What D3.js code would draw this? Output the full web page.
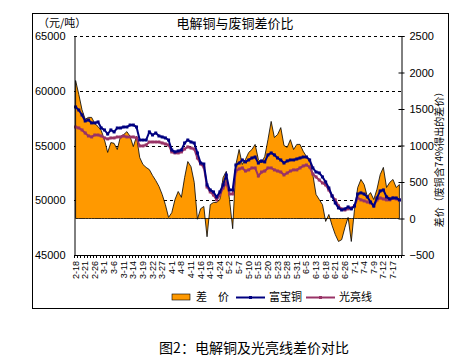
<!DOCTYPE html>
<html>
  <head>
    <meta charset="utf-8">
    <title>电解铜与废铜差价比</title>
    <script src="https://d3js.org/d3.v7.min.js"></script>
    <style>
      body { margin: 0; background: #fff; }
      svg text { font-family: "Liberation Sans", Arial, "Noto Sans CJK SC", sans-serif; }
      .cjk { font-family: "Noto Sans CJK SC", sans-serif; }
    </style>
  </head>
  <body>
    <div id="chart"></div>
    <script>
      // trading days, 2013
      var dates = [
        "2-18","2-19","2-20","2-21","2-22","2-25","2-26","2-27","2-28",
        "3-1","3-4","3-5","3-6","3-7","3-8","3-11","3-12","3-13","3-14","3-15","3-18","3-19","3-20","3-21","3-22","3-25","3-26","3-27","3-28","3-29",
        "4-1","4-2","4-3","4-8","4-9","4-10","4-11","4-12","4-15","4-16","4-17","4-18","4-19","4-22","4-23","4-24","4-25","4-26",
        "5-2","5-3","5-6","5-7","5-8","5-9","5-10","5-13","5-14","5-15","5-16","5-17","5-20","5-21","5-22","5-23","5-24","5-27","5-28","5-29","5-30","5-31",
        "6-3","6-4","6-5","6-6","6-7","6-13","6-14","6-17","6-18","6-19","6-20","6-21","6-24","6-25","6-26","6-27","6-28",
        "7-1","7-2","7-3","7-4","7-5","7-8","7-9","7-10","7-11","7-12","7-15","7-16","7-17","7-18","7-19"
      ];
      // 差价 (right axis)
      var spread = [
        1890,1700,1490,1360,1385,1385,1300,1260,1205,1080,905,1040,1030,945,1125,1150,1190,1125,985,1125,
        835,740,700,670,590,520,440,330,190,15,80,260,370,290,560,780,710,495,-10,135,
        165,-250,190,220,220,260,560,645,260,-140,740,945,740,810,905,945,1015,810,765,850,
        1080,1330,1110,1150,1245,1000,975,1080,945,1015,1015,920,850,810,600,330,260,190,-40,55,
        -95,-220,-315,-290,-125,15,-315,125,425,535,465,300,355,260,400,600,700,425,495,535,
        425,465
      ];
      // 富宝铜 (left axis)
      var fubao = [
        58520,58240,57790,57240,57330,57060,57060,57150,56600,56420,56050,56420,56240,56600,56600,56690,56690,56870,56870,56690,
        55500,55500,55500,56240,55960,56140,55870,55780,55690,55500,54590,54410,54500,54590,55230,55500,55320,55230,54320,53400,
        53310,51400,50940,50760,50300,50760,51400,52310,50940,50940,53220,53400,53680,53500,53680,53860,53950,53400,53590,53500,
        54140,54320,54140,53860,53680,53400,53590,53680,53680,53770,53860,53950,53950,53680,52950,52580,52490,52130,51670,51120,
        50390,49750,49300,49110,49210,49390,49210,49480,50570,50670,50570,50300,49840,49480,50210,50850,50940,50300,50120,50210,
        50210,50030
      ];
      // 光亮线 (left axis)
      var guangliang = [
        56690,56600,56420,56140,55870,55780,55960,55960,55870,55690,55600,55690,55690,55780,55780,55870,55780,55780,55780,55690,
        54960,54960,55050,55320,55320,55320,55320,55230,55140,55050,54410,54320,54320,54410,54680,54870,54770,54680,53860,53310,
        53040,51210,50760,50480,50030,50480,51120,51580,50570,50570,52670,52860,52950,52670,52770,52950,52950,52220,52580,52670,
        52950,52950,52770,52670,52580,52310,52490,52670,52770,52770,52950,53130,53220,53040,52400,52130,51850,51580,51400,50940,
        50390,50030,49480,49210,49110,49210,49300,49480,50210,50030,49940,49840,49750,49480,50030,50210,50120,50030,50030,50210,
        50120,50030
      ];
      var leftTicks = [45000, 50000, 55000, 60000, 65000];
      var gridTicks = [50000, 55000, 60000, 65000];
      var rightTicks = [-500, 0, 500, 1000, 1500, 2000, 2500];

      var svg = d3.select("#chart")
        .append("svg")
        .attr("width", 470)
        .attr("height", 362);

      // outer chart box
      svg.append("rect")
        .attr("x", 32.5).attr("y", 13.5)
        .attr("width", 416).attr("height", 295)
        .attr("fill", "#fff").attr("stroke", "#000");

      var plot = { left: 74, right: 401, top: 36, bottom: 255 };

      var x = d3.scaleBand()
        .domain(dates)
        .range([plot.left, plot.right]);
      var bw = x.bandwidth();
      function cx(d) { return x(d) + bw / 2; }

      var yL = d3.scaleLinear().domain([45000, 65000]).range([plot.bottom, plot.top]);
      var yR = d3.scaleLinear().domain([-500, 2500]).range([plot.bottom, plot.top]);

      // dashed gridlines
      svg.append("g")
        .selectAll("line")
        .data(gridTicks)
        .enter().append("line")
          .attr("x1", plot.left).attr("x2", plot.right)
          .attr("y1", function(d) { return Math.round(yL(d)) + 0.5; })
          .attr("y2", function(d) { return Math.round(yL(d)) + 0.5; })
          .attr("stroke", "#000")
          .attr("stroke-dasharray", "3,3");

      // spread area
      var area = d3.area()
        .x(function(d, i) { return cx(dates[i]); })
        .y0(yR(0))
        .y1(function(d) { return yR(d); });
      svg.append("path")
        .datum(spread)
        .attr("d", area)
        .attr("fill", "#ff9900")
        .attr("stroke", "#000")
        .attr("stroke-width", 0.8);

      // price lines
      function drawLine(values, color) {
        var line = d3.line()
          .x(function(d, i) { return cx(dates[i]); })
          .y(function(d) { return yL(d); });
        svg.append("path")
          .datum(values)
          .attr("d", line)
          .attr("fill", "none")
          .attr("stroke", color)
          .attr("stroke-width", 2);
        svg.append("g")
          .selectAll("rect")
          .data(values)
          .enter().append("rect")
            .attr("x", function(d, i) { return cx(dates[i]) - 1.5; })
            .attr("y", function(d) { return yL(d) - 1.5; })
            .attr("width", 3).attr("height", 3)
            .attr("fill", color);
      }
      drawLine(guangliang, "#993366");
      drawLine(fubao, "#000080");

      // left axis
      var leftAxis = svg.append("g")
        .attr("transform", "translate(" + (plot.left + 0.5) + ",0)")
        .call(d3.axisLeft(yL).tickValues(leftTicks).tickSize(0).tickPadding(9).tickFormat(d3.format("d")));
      leftAxis.select(".domain").attr("stroke", "#000");
      leftAxis.selectAll("text").attr("font-size", 11).attr("fill", "#000")
        .style("font-family", "'Liberation Sans', Arial, sans-serif");

      // right axis
      var rightAxis = svg.append("g")
        .attr("transform", "translate(" + (plot.right + 0.5) + ",0)")
        .call(d3.axisRight(yR).tickValues(rightTicks).tickSize(3).tickPadding(5).tickFormat(d3.format("d")));
      rightAxis.select(".domain").attr("stroke", "#000");
      rightAxis.selectAll(".tick line").attr("x1", -3).attr("stroke", "#000");
      rightAxis.selectAll("text").attr("font-size", 11).attr("fill", "#000")
        .style("font-family", "'Liberation Sans', Arial, sans-serif");

      // bottom axis with daily ticks
      svg.append("line")
        .attr("x1", plot.left).attr("x2", plot.right + 1)
        .attr("y1", plot.bottom + 0.5).attr("y2", plot.bottom + 0.5)
        .attr("stroke", "#000");
      svg.append("g")
        .selectAll("line")
        .data(d3.range(dates.length + 1))
        .enter().append("line")
          .attr("x1", function(i) { return Math.round(plot.left + i * bw) + 0.5; })
          .attr("x2", function(i) { return Math.round(plot.left + i * bw) + 0.5; })
          .attr("y1", plot.bottom).attr("y2", plot.bottom + 3)
          .attr("stroke", "#000");
      svg.append("g")
        .selectAll("text")
        .data(dates.filter(function(d, i) { return i % 3 === 0; }))
        .enter().append("text")
          .attr("transform", function(d) { return "translate(" + (cx(d) + 3) + "," + (plot.bottom + 6) + ") rotate(-90)"; })
          .attr("text-anchor", "end")
          .attr("font-size", 9)
          .text(function(d) { return d; });

      // titles
      svg.append("text")
        .attr("class", "cjk")
        .attr("x", 235).attr("y", 28)
        .attr("text-anchor", "middle")
        .attr("font-size", 13)
        .text("电解铜与废铜差价比");
      svg.append("text")
        .attr("class", "cjk")
        .attr("x", 38).attr("y", 27)
        .attr("font-size", 11)
        .text("（元/吨）");
      svg.append("text")
        .attr("class", "cjk")
        .attr("transform", "translate(443,157) rotate(-90)")
        .attr("text-anchor", "middle")
        .attr("font-size", 10)
        .text("差价（废铜含74%得出的差价）");

      // legend
      var legend = svg.append("g").attr("class", "cjk").attr("font-size", 11);
      legend.append("rect")
        .attr("x", 172).attr("y", 294).attr("width", 18).attr("height", 6)
        .attr("fill", "#ff9900").attr("stroke", "#000").attr("stroke-width", 0.6);
      legend.append("text").attr("x", 196).attr("y", 301).text("差　价");
      var series = [
        { name: "富宝铜", color: "#000080", x: 236 },
        { name: "光亮线", color: "#993366", x: 306 }
      ];
      series.forEach(function(s) {
        legend.append("line")
          .attr("x1", s.x).attr("x2", s.x + 29)
          .attr("y1", 297.5).attr("y2", 297.5)
          .attr("stroke", s.color).attr("stroke-width", 2);
        legend.append("rect")
          .attr("x", s.x + 13).attr("y", 296).attr("width", 3).attr("height", 3)
          .attr("fill", s.color);
        legend.append("text").attr("x", s.x + 33).attr("y", 301).text(s.name);
      });

      // caption
      svg.append("text")
        .attr("class", "cjk")
        .attr("x", 254).attr("y", 353)
        .attr("text-anchor", "middle")
        .attr("font-size", 14)
        .text("图2：电解铜及光亮线差价对比");
    </script>
  </body>
</html>
